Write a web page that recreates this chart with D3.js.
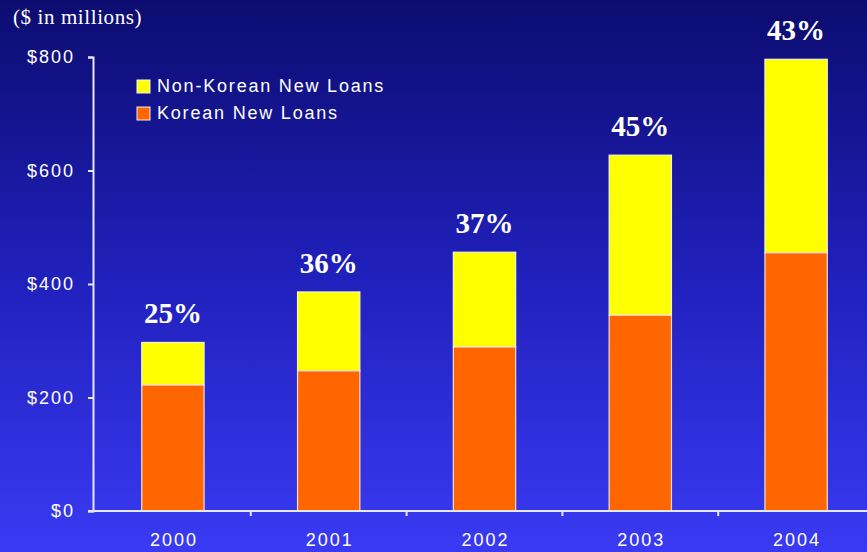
<!DOCTYPE html>
<html>
<head>
<meta charset="utf-8">
<script src="https://cdn.jsdelivr.net/npm/d3@7"></script>
<style>
  body { margin: 0; overflow: hidden; }
  svg { display: block; }
</style>
</head>
<body>
<svg width="867" height="552"></svg>
<script>
const years = ['2000', '2001', '2002', '2003', '2004'];
const korean = [222, 247, 289, 345, 455];
const nonKorean = [75, 139, 167, 282, 341];
const shareLabels = ['25%', '36%', '37%', '45%', '43%'];
const yTicks = [0, 200, 400, 600, 800];

const svg = d3.select('svg');
const width = +svg.attr('width');
const height = +svg.attr('height');

// background gradient, dark navy to bright blue
const defs = svg.append('defs');
const grad = defs.append('linearGradient')
    .attr('id', 'bg')
    .attr('x1', 0).attr('y1', 0).attr('x2', 0).attr('y2', 1);
grad.append('stop').attr('offset', '0%').attr('stop-color', '#0c0c70');
grad.append('stop').attr('offset', '50%').attr('stop-color', '#2020bc');
grad.append('stop').attr('offset', '100%').attr('stop-color', '#3a3af4');

svg.append('rect')
    .attr('width', width)
    .attr('height', height)
    .attr('fill', 'url(#bg)');

const x = d3.scaleBand()
    .domain(years)
    .range([95, 874])
    .paddingInner(0.6)
    .paddingOuter(0.3);

const xTicks = d3.scaleBand().domain(years).range([95, 874]);

const y = d3.scaleLinear()
    .domain([0, 800])
    .range([511, 57]);

const axisColor = '#e8e8f0';
const sans = 'Liberation Sans, Arial, sans-serif';
const serif = 'Liberation Serif, Times New Roman, serif';

// y axis
const yAxis = svg.append('g')
    .attr('transform', 'translate(93,0)')
    .call(d3.axisLeft(y).tickValues(yTicks).tickSize(5).tickPadding(13)
        .tickFormat(d => '$' + d));
yAxis.select('.domain').attr('stroke', axisColor).attr('stroke-width', 2);
yAxis.selectAll('.tick line').attr('stroke', axisColor).attr('stroke-width', 2);
yAxis.selectAll('text')
    .attr('fill', '#ffffff')
    .style('font-family', sans)
    .style('font-size', '18px')
    .style('letter-spacing', '2px');

// bars
const bars = svg.append('g');
years.forEach((yr, i) => {
    bars.append('rect')
        .attr('x', x(yr))
        .attr('width', x.bandwidth())
        .attr('y', y(korean[i] + nonKorean[i]))
        .attr('height', y(korean[i]) - y(korean[i] + nonKorean[i]))
        .attr('fill', '#ffff00')
        .attr('stroke', '#f4f4d0')
        .attr('stroke-width', 1.2);
    bars.append('rect')
        .attr('x', x(yr))
        .attr('width', x.bandwidth())
        .attr('y', y(korean[i]))
        .attr('height', y(0) - y(korean[i]))
        .attr('fill', '#ff6600')
        .attr('stroke', '#f4e0d0')
        .attr('stroke-width', 1.2);
    svg.append('text')
        .attr('x', x(yr) + x.bandwidth() / 2)
        .attr('y', y(korean[i] + nonKorean[i]) - 19)
        .attr('text-anchor', 'middle')
        .attr('fill', '#ffffff')
        .style('font-family', serif)
        .style('font-weight', 'bold')
        .style('font-size', '29px')
        .text(shareLabels[i]);
});

// x axis
const xAxis = svg.append('g')
    .attr('transform', `translate(0,${y(0)})`);
xAxis.append('line')
    .attr('x1', 88).attr('x2', width)
    .attr('stroke', axisColor).attr('stroke-width', 2);
xAxis.selectAll('.xt')
    .data(years.slice(1))
    .join('line')
    .attr('x1', d => xTicks(d)).attr('x2', d => xTicks(d))
    .attr('y1', 0).attr('y2', 5)
    .attr('stroke', axisColor).attr('stroke-width', 2);
xAxis.selectAll('.xl')
    .data(years)
    .join('text')
    .attr('x', d => x(d) + x.bandwidth() / 2 + 1)
    .attr('y', 35)
    .attr('text-anchor', 'middle')
    .attr('fill', '#ffffff')
    .style('font-family', sans)
    .style('font-size', '18px')
    .style('letter-spacing', '2px')
    .text(d => d);

// unit label
svg.append('text')
    .attr('x', 13)
    .attr('y', 24)
    .attr('fill', '#ffffff')
    .style('font-family', serif)
    .style('font-size', '21px')
    .style('letter-spacing', '0.6px')
    .text('($ in millions)');

// legend
const legend = [
    { label: 'Non-Korean New Loans', color: '#ffff00' },
    { label: 'Korean New Loans', color: '#ff6600' }
];
const lg = svg.append('g').attr('transform', 'translate(137,80)');
legend.forEach((d, i) => {
    lg.append('rect')
        .attr('x', 0).attr('y', i * 27)
        .attr('width', 13).attr('height', 13)
        .attr('fill', d.color)
        .attr('stroke', '#f0f0f0').attr('stroke-width', 1);
    lg.append('text')
        .attr('x', 20).attr('y', i * 27 + 12)
        .attr('fill', '#ffffff')
        .style('font-family', sans)
        .style('font-size', '18px')
        .style('letter-spacing', '1.8px')
        .text(d.label);
});
</script>
</body>
</html>
